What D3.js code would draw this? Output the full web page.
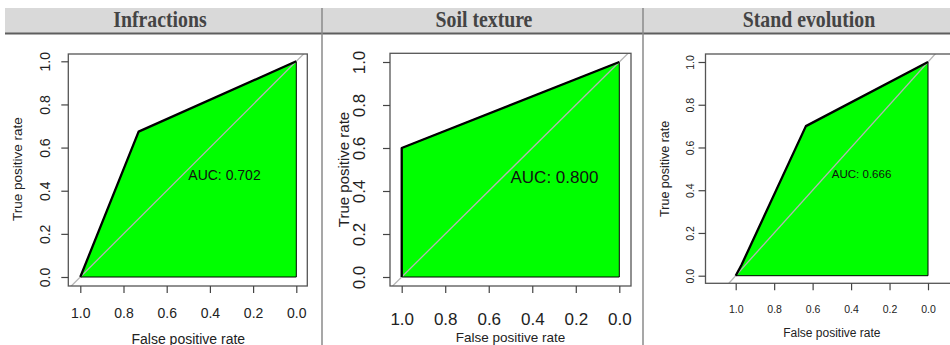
<!DOCTYPE html>
<html>
<head>
<meta charset="utf-8">
<script src="https://cdn.jsdelivr.net/npm/d3@7/dist/d3.min.js"></script>
<style>
  html, body { margin: 0; padding: 0; background: #fff; }
  svg { display: block; }
</style>
</head>
<body>
<svg id="chart" width="950" height="345"></svg>
<script>
// ROC curves for three predictors (x axis runs from 1.0 down to 0.0)
const panelTitles = ["Infractions", "Soil texture", "Stand evolution"];

const infractionsX = [1, 0.73, 0];
const infractionsY = [0, 0.674, 1];

const soilTextureX = [1, 1, 0];
const soilTextureY = [0, 0.6, 1];

const standEvolutionX = [1, 0.97, 0.635, 0];
const standEvolutionY = [0, 0.05, 0.70, 1];

const tickValues = [0, 0.2, 0.4, 0.6, 0.8, 1.0];
const xAxisTitle = "False positive rate";
const yAxisTitle = "True positive rate";

const curves = [
  { x: infractionsX, y: infractionsY },
  { x: soilTextureX, y: soilTextureY },
  { x: standEvolutionX, y: standEvolutionY }
];

// Per-panel geometry (pixels)
const layout = [
  { box: [68.3, 54, 307.3, 286], xr: [80.3, 296.3], yr: [277, 61.3],
    tickFont: 14, yTickX: 45, xTickY: 313, xLabFont: 14, yLabFont: 13.5,
    yLabX: 17, xLabY: 338.5, aucFont: 14, titleX: 160 },
  { box: [390, 53.3, 631, 286], xr: [401.7, 619.3], yr: [277, 62],
    tickFont: 17, yTickX: 359, xTickY: 319, xLabFont: 13.5, yLabFont: 15,
    yLabX: 343, xLabY: 337.5, aucFont: 17, titleX: 484 },
  { box: [705.5, 54, 958, 283.3], xr: [735.7, 928], yr: [275.7, 62],
    tickFont: 10.5, yTickX: 689.5, xTickY: 309, xLabFont: 12, yLabFont: 12.5,
    yLabX: 665, xLabY: 333, aucFont: 11.5, titleX: 809 }
];

const svg = d3.select("#chart");
const font = "'Liberation Sans', Arial, sans-serif";

// Header band with panel titles
svg.append("rect").attr("x", 5).attr("y", 8).attr("width", 945).attr("height", 25)
  .attr("fill", "#d9d9d9");
svg.append("line").attr("x1", 5).attr("x2", 950).attr("y1", 33.5).attr("y2", 33.5)
  .attr("stroke", "#5e5e5e").attr("stroke-width", 2);
[322, 643].forEach(x => {
  svg.append("line").attr("x1", x).attr("x2", x).attr("y1", 8).attr("y2", 345)
    .attr("stroke", "#8a8a8a").attr("stroke-width", 1.5);
});

// Trapezoidal area under a curve
function auc(xs, ys) {
  let a = 0;
  for (let i = 1; i < xs.length; i++) {
    a += Math.abs(xs[i - 1] - xs[i]) * (ys[i - 1] + ys[i]) / 2;
  }
  return a;
}

layout.forEach((L, i) => {
  const c = curves[i];
  const [bx0, by0, bx1, by1] = L.box;
  const xs = d3.scaleLinear().domain([1, 0]).range(L.xr);
  const ys = d3.scaleLinear().domain([0, 1]).range(L.yr);

  // title
  svg.append("text").attr("x", L.titleX).attr("y", 27.5)
    .attr("text-anchor", "middle")
    .attr("font-family", "'Liberation Serif', 'Times New Roman', serif")
    .attr("font-weight", "bold").attr("font-size", 23)
    .attr("fill", "#444")
    .attr("transform", `translate(${L.titleX},0) scale(0.86,1) translate(${-L.titleX},0)`)
    .text(panelTitles[i]);

  const g = svg.append("g");
  const clipId = "clip" + i;
  g.append("clipPath").attr("id", clipId).append("rect")
    .attr("x", bx0).attr("y", by0).attr("width", bx1 - bx0).attr("height", by1 - by0);

  // filled area under the curve
  const pts = c.x.map((v, k) => [xs(v), ys(c.y[k])]);
  const poly = pts.concat([[xs(0), ys(0)]]);
  g.append("path")
    .attr("d", "M" + poly.map(p => p.join(",")).join("L") + "Z")
    .attr("fill", "#00ff00").attr("stroke", "#000").attr("stroke-width", 1);

  // chance diagonal
  g.append("line").attr("clip-path", `url(#${clipId})`)
    .attr("x1", xs(1.5)).attr("y1", ys(-0.5)).attr("x2", xs(-0.5)).attr("y2", ys(1.5))
    .attr("stroke", "#b4b4b4").attr("stroke-width", 1.3);

  // ROC curve
  g.append("path")
    .attr("d", d3.line()(pts))
    .attr("fill", "none").attr("stroke", "#000").attr("stroke-width", 2.3)
    .attr("stroke-linejoin", "round");

  // plot box
  g.append("rect").attr("x", bx0).attr("y", by0)
    .attr("width", bx1 - bx0).attr("height", by1 - by0)
    .attr("fill", "none").attr("stroke", "#555").attr("stroke-width", 1.3);

  // AUC label
  g.append("text").attr("x", xs(0.5)).attr("y", ys(0.5))
    .attr("dy", "0.78em")
    .attr("font-family", font).attr("font-size", L.aucFont).attr("fill", "#111")
    .text("AUC: " + auc(c.x, c.y).toFixed(3));

  // x axis
  const ax = g.append("g").attr("transform", `translate(0,${by1})`)
    .call(d3.axisBottom(xs).tickValues(tickValues).tickFormat(d3.format(".1f"))
      .tickSize(7).tickSizeOuter(0));
  ax.select(".domain").remove();
  ax.selectAll(".tick line").attr("stroke", "#444").attr("stroke-width", 1.2);
  ax.selectAll(".tick text")
    .attr("y", L.xTickY - by1).attr("dy", null)
    .attr("dominant-baseline", "central")
    .attr("font-family", font).attr("font-size", L.tickFont).attr("fill", "#222");

  // y axis
  const ay = g.append("g").attr("transform", `translate(${bx0},0)`)
    .call(d3.axisLeft(ys).tickValues(tickValues).tickFormat(d3.format(".1f"))
      .tickSize(7).tickSizeOuter(0));
  ay.select(".domain").remove();
  ay.selectAll(".tick line").attr("stroke", "#444").attr("stroke-width", 1.2);
  ay.selectAll(".tick text")
    .attr("x", 0).attr("y", 0).attr("dy", null)
    .attr("text-anchor", "middle").attr("dominant-baseline", "central")
    .attr("transform", `translate(${L.yTickX - bx0},0) rotate(-90)`)
    .attr("font-family", font).attr("font-size", L.tickFont).attr("fill", "#222");

  // axis titles
  g.append("text").attr("x", (L.xr[0] + L.xr[1]) / 2).attr("y", L.xLabY)
    .attr("text-anchor", "middle").attr("dominant-baseline", "central")
    .attr("font-family", font).attr("font-size", L.xLabFont).attr("fill", "#222")
    .text(xAxisTitle);
  const yMid = (L.yr[0] + L.yr[1]) / 2;
  g.append("text")
    .attr("transform", `translate(${L.yLabX},${yMid}) rotate(-90)`)
    .attr("text-anchor", "middle").attr("dominant-baseline", "central")
    .attr("font-family", font).attr("font-size", L.yLabFont).attr("fill", "#222")
    .text(yAxisTitle);
});
</script>
</body>
</html>
